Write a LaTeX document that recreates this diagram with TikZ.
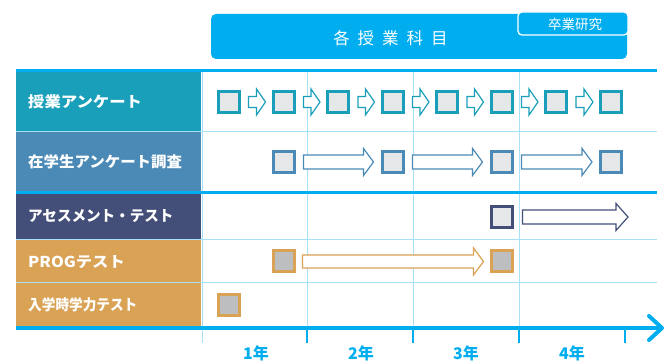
\documentclass[tikz,border=0pt]{standalone}
\usepackage{fontspec}
\setmainfont{Noto Sans CJK JP}
\usetikzlibrary{calc}
\definecolor{sky}{HTML}{00AEEF}
\definecolor{grid}{HTML}{A6E1F7}
\definecolor{teal}{HTML}{1A9FBA}
\definecolor{steel}{HTML}{4B8AB6}
\definecolor{navy}{HTML}{434F78}
\definecolor{ochre}{HTML}{D9A255}
\definecolor{boxfill}{HTML}{E6E7E8}
\definecolor{boxgray}{HTML}{BCBEC0}
\newcommand\blockarr[6]{%
  \draw[#6] let \p1=(#1), \p2=(#2) in
   (\x1,\y1+#3) -- (\x2-#5,\y1+#3) -- (\x2-#5,\y1+#4) -- (\x2,\y1)
   -- (\x2-#5,\y1-#4) -- (\x2-#5,\y1-#3) -- (\x1,\y1-#3) -- cycle;}
\tikzset{
  sq/.style={draw=#1, line width=3pt, minimum size=21pt, inner sep=0pt, fill=boxfill},
  sqg/.style={draw=#1, line width=3pt, minimum size=21pt, inner sep=0pt, fill=boxgray},
  lbl/.style={anchor=west, text=white, font=\bfseries\fontsize{15pt}{16pt}\selectfont, inner sep=0pt},
  yr/.style={text=sky, font=\bfseries\fontsize{16pt}{17pt}\selectfont, inner sep=0pt},
  gl/.style={draw=grid, line width=1pt},
  thick blue/.style={draw=sky, line width=3pt},
  arr/.style={draw=#1, fill=white, line width=1.2pt, line join=miter},
}
\begin{document}
\begin{tikzpicture}[x=1pt,y=-1pt]
\useasboundingbox (0,0) rectangle (665,363);
% banner
\node[fill=sky, rounded corners=5pt, minimum width=416pt, minimum height=45pt, inner sep=0pt] (banner) at (419,36.5) {};
\node[fill=sky, draw=white, line width=1.3pt, rounded corners=4pt, minimum width=110pt, minimum height=23pt, inner sep=0pt] (tab) at (573,23.5) {};
\node[text=white, font=\fontsize{16.5pt}{18pt}\selectfont, inner sep=0pt] (title) at (390.5,38) {各\hspace{8pt}授\hspace{8pt}業\hspace{8pt}科\hspace{8pt}目};
\node[text=white, font=\fontsize{13.5pt}{15pt}\selectfont, inner sep=0pt] (tabt) at (575,24) {卒業研究};
% label column
\fill[teal] (16,72) rectangle (201,132);
\fill[steel] (16,132) rectangle (201,193);
\fill[navy] (16,193) rectangle (201,240);
\fill[ochre] (16,240) rectangle (201,283);
\fill[ochre] (16,283) rectangle (201,327);
% grid
\draw[gl] (16,132) -- (657,132);
\draw[gl] (16,240) -- (657,240);
\draw[gl] (16,283) -- (657,283);
\draw[gl] (202,71) -- (202,343);
\foreach \x in {307,413,519} \draw[gl] (\x,71) -- (\x,327);
\foreach \x in {307,413,519,625} \draw[draw=sky, line width=2pt] (\x,327) -- (\x,343);
\draw[thick blue] (16,71) -- (657,71);
\draw[thick blue] (16,193) -- (657,193);
\draw[draw=sky, line width=4pt] (16,328) -- (661,328);
\draw[draw=sky, line width=4pt, line cap=round, line join=round] (649,316) -- (662,328) -- (649,340);
% labels
\node[lbl] (l1) at (28,102) {\scalebox{1.09}[1]{授業アンケート}};
\node[lbl] (l2) at (28,162) {\scalebox{1.03}[1]{在学生アンケート調査}};
\node[lbl] (l3) at (28,216) {\scalebox{0.97}[1]{アセスメント・テスト}};
\node[lbl] (l4) at (28,262) {\scalebox{1.09}[1]{PROGテスト}};
\node[lbl] (l5) at (28,305) {\scalebox{0.91}[1]{入学時学力テスト}};
% years
\node[yr] (y1) at (256,353.5) {1年};
\node[yr] (y2) at (361,353.5) {2年};
\node[yr] (y3) at (466,353.5) {3年};
\node[yr] (y4) at (572,353.5) {4年};
% row 1
\foreach \i/\x in {1/228.5,2/283.5,3/338,4/392.5,5/447,6/501.5,7/556,8/611}
  \node[sq=teal] (a\i) at (\x,102) {};
\foreach \i [evaluate=\i as \j using int(\i+1)] in {1,...,7}
  \blockarr{$(a\i.east)+(8,0)$}{$(a\j.west)+(-6,0)$}{5.5}{13}{9}{arr=teal}
% row 2
\foreach \i/\x in {1/283.5,2/392.5,3/501.5,4/611}
  \node[sq=steel] (b\i) at (\x,162) {};
\foreach \i [evaluate=\i as \j using int(\i+1)] in {1,2,3}
  \blockarr{$(b\i.east)+(8,0)$}{$(b\j.west)+(-7,0)$}{7}{13.5}{10}{arr=steel}
% row 3
\node[sq=navy] (c1) at (501.5,217) {};
\coordinate (cend) at (628,217);
\blockarr{$(c1.east)+(9,0)$}{cend}{7}{13.5}{12}{arr=navy}
% row 4
\node[sqg=ochre] (d1) at (283.5,261.5) {};
\node[sqg=ochre] (d2) at (501.5,261.5) {};
\blockarr{$(d1.east)+(7,0)$}{$(d2.west)+(-6,0)$}{6.5}{13.5}{10}{arr=ochre}
% row 5
\node[sqg=ochre] (e1) at (228.5,305) {};
\end{tikzpicture}
\end{document}
